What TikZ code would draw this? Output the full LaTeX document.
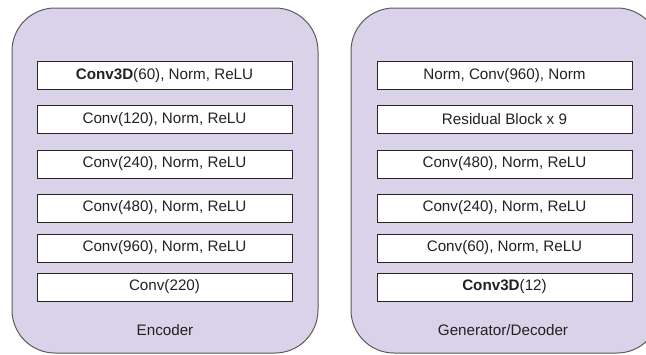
\documentclass[tikz,border=0pt]{standalone}
\usepackage{fontspec}
\setmainfont{Liberation Sans}
\definecolor{panelfill}{HTML}{D9D2E9}
\definecolor{panelline}{HTML}{5A5A5A}
\definecolor{txt}{HTML}{222222}
\begin{document}
\begin{tikzpicture}[x=1pt,y=-1pt,
  panel/.style={draw=panelline,line width=1pt,fill=panelfill,rounded corners=43pt},
  layer/.style={draw=black!85,line width=0.8pt,fill=white,minimum width=255pt,
    minimum height=28pt,inner sep=0pt,font=\fontsize{15.2}{18}\selectfont,text=txt},
  caption/.style={font=\fontsize{15.2}{18}\selectfont,text=txt}]
\useasboundingbox (0,0) rectangle (646,354);
\begin{scope}
\clip (0,0) rectangle (646,354);
% panels
\draw[panel] (12,8) rectangle (318,353);
\draw[panel] (351,8) rectangle (660,353);
\end{scope}
% encoder stack
\node[layer] (e1) at (164.5,75.5) {\textbf{Conv3D}(60), Norm, ReLU};
\node[layer] (e2) at (164.5,119.5) {Conv(120), Norm, ReLU};
\node[layer] (e3) at (164.5,164) {Conv(240), Norm, ReLU};
\node[layer] (e4) at (164.5,208) {Conv(480), Norm, ReLU};
\node[layer] (e5) at (164.5,248) {Conv(960), Norm, ReLU};
\node[layer] (e6) at (164.5,287) {Conv(220)};
\node[caption] (enc) at (165,330) {Encoder};
% generator / decoder stack
\node[layer] (d1) at (504.5,75.5) {Norm, Conv(960), Norm};
\node[layer] (d2) at (504.5,119.5) {Residual Block x 9};
\node[layer] (d3) at (504.5,164) {Conv(480), Norm, ReLU};
\node[layer] (d4) at (504.5,208) {Conv(240), Norm, ReLU};
\node[layer] (d5) at (504.5,248) {Conv(60), Norm, ReLU};
\node[layer] (d6) at (504.5,287) {\textbf{Conv3D}(12)};
\node[caption] (dec) at (503,330) {Generator/Decoder};
\end{tikzpicture}
\end{document}
